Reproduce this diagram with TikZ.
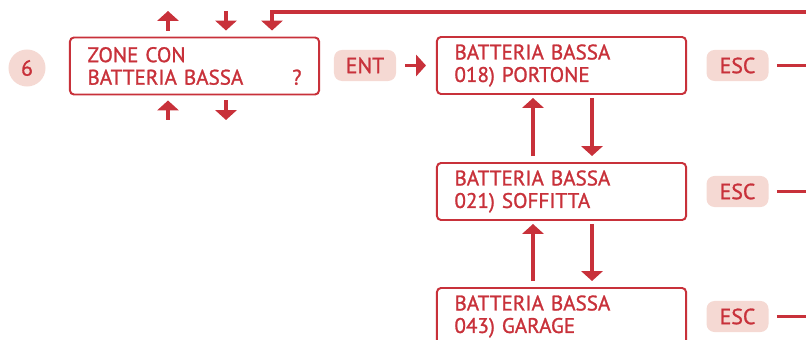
\documentclass[tikz,border=0pt]{standalone}
\usepackage{fontspec}
\setmainfont[WordSpace=1.7,FakeBold=1.2]{PT Sans}
\usetikzlibrary{arrows.meta,positioning,calc}
\definecolor{alarm}{HTML}{C8313A}
\definecolor{blush}{HTML}{F5D9D3}

\begin{document}
\begin{tikzpicture}[x=0.025cm,y=-0.025cm,>={Triangle[width=15pt,length=7pt]},
  lcd/.style={draw=alarm,line width=1.4pt,rounded corners=0.1cm,text width=5.35cm,inner xsep=0.4375cm,
    minimum height=1.425cm,align=left,text=alarm,font=\fontsize{15}{16}\selectfont},
  key/.style={fill=blush,rounded corners=0.2cm,minimum width=1.55cm,minimum height=0.775cm,
    inner sep=0pt,text=alarm,font=\fontsize{15.5}{16}\selectfont},
  flow/.style={->,alarm,line width=2.5pt},
  link/.style={alarm,line width=2.5pt}]
  \clip (0,0) rectangle (806,340);
  % step 6: menu entry
  \node[key,circle,minimum size=0.925cm] (six) at (27,68) {6};
  \node[lcd] (menu) at (194.5,66) {ZONE CON\\BATTERIA BASSA\hspace{0pt plus 1filll}?};
  \node[key] (ent) at (365,65.5) {ENT};
  % zone list
  \node[lcd] (z1) at (561.5,65.5) {BATTERIA BASSA\\018) PORTONE};
  \node[lcd] (z2) at (561.5,191.5) {BATTERIA BASSA\\021) SOFFITTA};
  \node[lcd] (z3) at (561.5,316.5) {BATTERIA BASSA\\043) GARAGE};
  \foreach \z in {1,2,3}{
    \node[key] (esc\z) at (z\z.center -| 737.5,0) {ESC};}
  % arrow ends
  \coordinate (t1) at (168,11);
  \coordinate (t2) at (226,11);
  \coordinate (t3) at (272,12);
  \coordinate (b1) at (168,120);
  \coordinate (b2) at (226,120);
  \coordinate (ret) at (815,12);
  \draw[flow,shorten <=0.15cm] (menu.north -| t1) -- (t1);
  \draw[flow,shorten >=0.15cm] (t2) -- (menu.north -| t2);
  \draw[flow,shorten >=0.15cm] (ret) -- (t3) -- (menu.north -| t3);
  \draw[flow,shorten >=0.125cm] (b1) -- (menu.south -| b1);
  \draw[flow,shorten <=0.125cm] (menu.south -| b2) -- (b2);
  \draw[flow,shorten <=0.225cm,shorten >=0.25cm] (ent) -- (z1);
  \foreach \a/\b in {z1/z2,z2/z3}{
    \draw[flow,shorten <=0.15cm,shorten >=0.075cm] ([xshift=-0.7125cm]\b.north) -- ([xshift=-0.7125cm]\a.south);
    \draw[flow,shorten <=0.075cm,shorten >=0.15cm] ([xshift=0.7625cm]\a.south) -- ([xshift=0.7625cm]\b.north);}
  \foreach \z in {1,2,3}
    \draw[link,shorten <=0.2cm] (esc\z.east) -- (esc\z.east -| ret);
\end{tikzpicture}
\end{document}
